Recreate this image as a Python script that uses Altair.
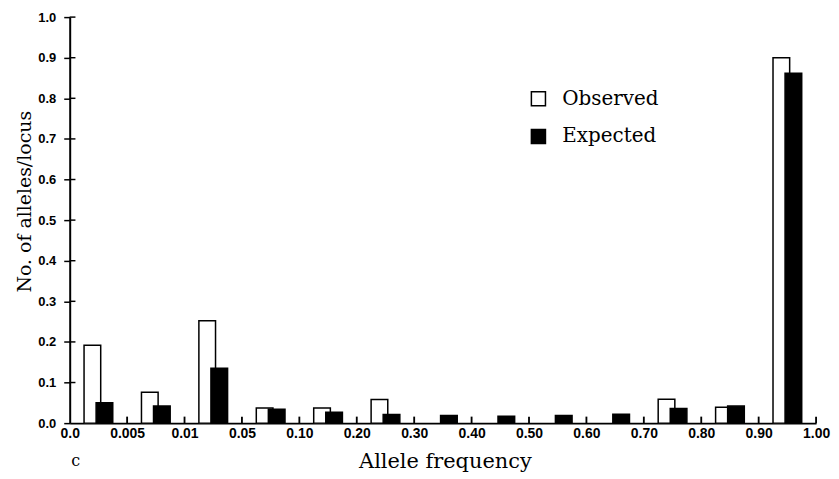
import altair as alt
import pandas as pd

# ---- data ----
bin_labels = ["0.0", "0.005", "0.01", "0.05", "0.10", "0.20", "0.30",
              "0.40", "0.50", "0.60", "0.70", "0.80", "0.90", "1.00"]
observed = [0.192, 0.076, 0.252, 0.037, 0.037, 0.058, 0.0, 0.0, 0.0, 0.0,
            0.059, 0.039, 0.900]
expected = [0.050, 0.042, 0.135, 0.034, 0.027, 0.021, 0.019, 0.017, 0.019,
            0.022, 0.036, 0.042, 0.862]
series_names = ["Observed", "Expected"]
y_ticks = [0.0, 0.1, 0.2, 0.3, 0.4, 0.5, 0.6, 0.7, 0.8, 0.9, 1.0]
panel_label = "c"
x_title = "Allele frequency"
y_title = "No. of alleles/locus"

rows = []
for i, v in enumerate(observed):
    rows.append({"bin": i, "series": "Observed", "value": v})
for i, v in enumerate(expected):
    rows.append({"bin": i, "series": "Expected", "value": v})
df = pd.DataFrame(rows)

n_bins = len(observed)
W, H = 750, 408
SERIF = "DejaVu Serif"
SANS = "Liberation Sans"

label_expr = "[" + ",".join("'%s'" % s for s in bin_labels) + "][datum.value]"

xscale = alt.Scale(domain=[0, n_bins], nice=False, zero=False)
yscale = alt.Scale(domain=[0, 1], nice=False)

bars = alt.Chart(df).transform_filter(
    "datum.value > 0"
).transform_calculate(
    x0="datum.bin + (datum.series == 'Observed' ? 0.25 : 0.46)",
    x1="datum.bin + (datum.series == 'Observed' ? 0.54 : 0.75)",
    order="datum.series == 'Observed' ? 0 : 1",
).mark_bar(stroke="black", strokeWidth=1.5).encode(
    x=alt.X("x0:Q", scale=xscale,
            axis=alt.Axis(values=list(range(n_bins + 1)), labelExpr=label_expr,
                          ticks=False, grid=False, domainColor="black",
                          domainWidth=2, labelFont=SANS, labelFontWeight="bold",
                          labelFontSize=14, labelColor="black", labelPadding=3,
                          labelFlush=False,
                          title=x_title, titleFont=SERIF, titleFontSize=21,
                          titleFontWeight="normal", titleColor="black",
                          titleX=W / 2 + 2, titleY=45,
                          titleBaseline="alphabetic")),
    x2="x1:Q",
    y=alt.Y("value:Q", scale=yscale,
            axis=alt.Axis(values=y_ticks, format=".1f", grid=False,
                          domainColor="black", domainWidth=2, tickColor="black",
                          tickWidth=1.5, tickSize=6, labelFont=SANS,
                          labelFontWeight="bold", labelFontSize=13,
                          labelColor="black", labelPadding=8,
                          title=y_title, titleFont=SERIF, titleFontSize=19,
                          titleFontWeight="normal", titleColor="black",
                          titleAngle=270, titleX=-45, titleY=185,
                          titleAlign="center", titleBaseline="middle")),
    y2=alt.datum(0),
    fill=alt.Fill("series:N",
                  scale=alt.Scale(domain=series_names, range=["white", "black"]),
                  legend=alt.Legend(title=None, orient="none", legendX=461,
                                    legendY=72, symbolType="square",
                                    symbolSize=200, symbolStrokeColor="black",
                                    symbolStrokeWidth=1.5, labelFont=SERIF,
                                    labelFontSize=20, labelFontWeight="normal",
                                    labelColor="black",
                                    labelOffset=14, rowPadding=16)),
    order=alt.Order("order:Q"),
)

# small upward ticks on the x axis at bin boundaries (thin rects)
xt = pd.DataFrame({"b": list(range(1, n_bins + 1))})
xticks = alt.Chart(xt).transform_calculate(
    b0="datum.b - 0.016", b1="datum.b + 0.016", lo="0", hi="0.016"
).mark_rect(color="black").encode(
    x=alt.X("b0:Q", scale=xscale),
    x2="b1:Q",
    y=alt.Y("lo:Q", scale=yscale),
    y2="hi:Q",
)

# inward half of y ticks (cross the axis)
yt = pd.DataFrame({"t": y_ticks[1:]})
yticks = alt.Chart(yt).transform_calculate(
    t0="datum.t - 0.0018", t1="datum.t + 0.0018", l="0", r="0.1"
).mark_rect(color="black").encode(
    y=alt.Y("t0:Q", scale=yscale),
    y2="t1:Q",
    x=alt.X("l:Q", scale=xscale),
    x2="r:Q",
)

panel = alt.Chart(pd.DataFrame({"t": [panel_label]})).mark_text(
    font=SERIF, fontSize=16, color="black", align="center", baseline="middle"
).encode(text="t:N", x=alt.value(6), y=alt.value(H + 38))

chart = alt.layer(bars, xticks, yticks, panel).properties(
    width=W, height=H,
    autosize=alt.AutoSizeParams(type="none"),
    padding={"left": 62, "top": 8, "right": 15, "bottom": 55},
    background="white",
).configure_view(stroke=None)

chart.save("out.html", embed_options={"renderer": "svg", "actions": False})
